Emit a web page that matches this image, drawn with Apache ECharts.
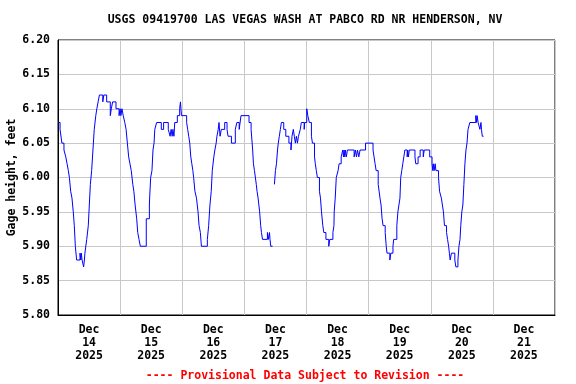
<!DOCTYPE html>
<html>
<head>
<meta charset="utf-8">
<script src="https://cdn.jsdelivr.net/npm/echarts@6/dist/echarts.min.js"></script>
<style>html,body{margin:0;padding:0;background:#fff}#c{width:576px;height:384px}</style>
</head>
<body>
<div id="c"></div>
<script>
// Hours since Dec 14 2025 00:00 and gage height (feet); null = gap in record
const hours = [0,0.8,1.5,2.3,3.0,3.5,4.0,4.4,4.9,5.4,5.9,6.3,6.7,7.2,8.5,8.8,9.0,9.3,9.9,10.2,10.4,11.1,11.7,12.1,12.5,13.0,13.5,14.0,14.6,15.0,15.5,16.0,17.3,17.7,18.8,20.2,20.6,21.1,22.4,23.6,24.0,24.3,24.7,25.2,25.8,26.3,26.8,27.3,27.8,28.3,28.9,29.3,29.8,30.4,30.8,31.3,31.8,34.1,35.3,35.4,35.8,36.3,36.7,37.1,37.4,38.1,39.9,40.8,42.6,43.3,43.7,44.1,44.4,44.8,45.1,46.1,47.0,47.3,47.7,49.7,50.1,50.5,50.9,51.3,51.7,52.1,52.4,52.9,53.5,54.1,54.5,55.0,55.4,57.7,58.2,58.7,59.2,59.6,60.2,60.6,61.1,61.4,61.9,62.2,62.6,63.1,64.4,65.3,65.7,67.0,68.5,69.1,70.0,70.7,73.8,74.6,75.2,75.5,75.9,76.6,76.9,77.3,77.6,77.9,78.3,78.6,79.0,80.9,81.3,81.7,81.9,82.2,82.9,83.6,84.0,84.4,84.8,85.1,85.5,85.9,86.3,87.2,88.0,89.2,90.0,90.4,90.9,91.3,91.7,92.1,92.5,92.9,93.6,94.0,95.1,95.3,96.1,96.5,97.1,97.9,98.3,99.1,99.4,99.8,100.2,101.0,101.4,101.8,102.3,102.7,103.5,104.6,105.0,106.2,106.6,106.7,107.1,107.5,108.2,108.6,109.4,110.0,110.3,110.5,110.8,111.0,111.4,111.8,114.4,114.9,115.3,115.7,116.2,116.7,118.8,121.7,122.1,122.5,122.9,123.7,124.4,124.8,125.2,125.6,126.4,126.8,127.1,128.2,128.6,129.4,129.7,130.9,131.3,131.7,132.1,132.4,132.8,133.2,133.6,134.0,134.9,135.1,135.4,135.7,137.9,138.2,139.1,139.9,141.1,141.5,143.6,144.5,144.8,145.0,145.3,145.7,146.0,147.0,147.4,148.1,148.5,148.9,149.3,150.1,150.5,150.9,151.2,151.5,152.0,153.3,153.7,154.5,154.9,155.3,155.6,156.0,156.4,156.8,157.2,157.6,158.0,158.4,159.1,161.4,161.7,161.9,162.3,163.0,163.4,163.6,163.9,164.4];
const gage = [6.08,6.07,6.05,6.04,6.03,6.02,6.01,6.00,5.98,5.97,5.95,5.93,5.90,5.88,5.89,5.88,5.89,5.88,5.87,5.88,5.89,5.91,5.93,5.96,5.99,6.01,6.04,6.07,6.09,6.10,6.11,6.12,6.11,6.12,6.11,6.09,6.10,6.11,6.10,6.09,6.10,6.09,6.10,6.09,6.08,6.07,6.05,6.03,6.02,6.01,5.99,5.98,5.96,5.94,5.92,5.91,5.90,5.94,5.96,5.97,6.00,6.01,6.04,6.05,6.07,6.08,6.07,6.08,6.07,6.06,6.07,6.06,6.07,6.06,6.08,6.09,6.10,6.11,6.09,6.08,6.07,6.06,6.05,6.03,6.02,6.01,6.00,5.98,5.97,5.95,5.93,5.92,5.90,5.91,5.93,5.96,5.98,6.01,6.03,6.04,6.05,6.06,6.07,6.08,6.06,6.07,6.08,6.07,6.06,6.05,6.07,6.08,6.07,6.09,6.08,6.07,6.04,6.02,6.01,5.99,5.98,5.97,5.96,5.95,5.93,5.92,5.91,5.92,5.91,5.92,5.91,5.90,null,5.99,6.01,6.02,6.04,6.05,6.06,6.07,6.08,6.07,6.06,6.05,6.04,6.06,6.07,6.06,6.05,6.06,6.05,6.06,6.07,6.08,6.07,6.08,6.10,6.09,6.08,6.06,6.05,6.03,6.02,6.01,6.00,5.98,5.97,5.95,5.93,5.92,5.91,5.90,5.91,5.92,5.93,5.95,5.97,6.00,6.01,6.02,6.03,6.04,6.03,6.04,6.03,6.04,6.03,6.04,6.03,6.04,6.03,6.04,6.03,6.04,6.05,6.04,6.03,6.02,6.01,5.99,5.97,5.96,5.94,5.93,5.92,5.90,5.89,5.88,5.89,5.90,5.91,5.93,5.95,5.96,5.97,6.00,6.01,6.02,6.03,6.04,6.03,6.04,6.03,6.04,6.03,6.02,6.03,6.04,6.03,6.04,6.03,6.02,6.01,6.02,6.01,6.02,6.01,6.00,5.98,5.97,5.96,5.95,5.93,5.92,5.91,5.90,5.89,5.88,5.89,5.88,5.87,5.88,5.90,5.91,5.93,5.95,5.96,5.99,6.02,6.04,6.05,6.07,6.08,6.09,6.08,6.09,6.08,6.07,6.08,6.07,6.06,6.06];
const dayLabels = ['Dec\n14\n2025','Dec\n15\n2025','Dec\n16\n2025','Dec\n17\n2025','Dec\n18\n2025','Dec\n19\n2025','Dec\n20\n2025','Dec\n21\n2025'];
const titleText = 'USGS 09419700 LAS VEGAS WASH AT PABCO RD NR HENDERSON, NV';
const footerText = '---- Provisional Data Subject to Revision ----';
const yName = 'Gage height, feet';

const FONT = "'DejaVu Sans Mono', monospace";
const chart = echarts.init(document.getElementById('c'), null, {renderer: 'canvas'});
const seriesData = hours.map((h, i) => [h, gage[i] === null ? '-' : gage[i]]);
chart.setOption({
  animation: false,
  backgroundColor: '#fff',
  title: [
    {text: titleText, left: 300, top: 9, textAlign: 'center',
     textStyle: {fontFamily: FONT, fontWeight: 'bold', fontSize: 11.5, color: '#000'}},
    {text: footerText, left: 300, top: 365, textAlign: 'center',
     textStyle: {fontFamily: FONT, fontWeight: 'bold', fontSize: 11.5, color: '#ff0000'}}
  ],
  graphic: [{
    type: 'text', x: 12, y: 177.5, rotation: Math.PI / 2, silent: true,
    style: {text: yName, fill: '#000', font: "bold 11.5px 'DejaVu Sans Mono', monospace",
            align: 'center', verticalAlign: 'middle'}
  }],
  grid: {left: 58, top: 40, width: 497, height: 275, outerBoundsMode: 'none', containLabel: false,
         show: true, borderColor: '#000', borderWidth: 1, backgroundColor: 'transparent'},
  xAxis: [
    {type: 'value', min: 0, max: 192, interval: 24,
     axisLine: {show: true, lineStyle: {color: '#000'}}, axisTick: {show: false},
     axisLabel: {show: false},
     splitLine: {show: true, lineStyle: {color: '#c8c8c8', width: 1}}},
    {type: 'category', data: dayLabels, position: 'bottom', boundaryGap: true,
     axisLine: {show: false}, axisTick: {show: false}, splitLine: {show: false},
     axisLabel: {interval: 0, margin: 9, fontFamily: FONT, fontWeight: 'bold', fontSize: 11.5, lineHeight: 13, color: '#000'}}
  ],
  yAxis: {
    type: 'value', min: 5.8, max: 6.2, interval: 0.05,
    axisLine: {show: true, lineStyle: {color: '#000'}}, axisTick: {show: false},
    axisLabel: {margin: 8, fontFamily: FONT, fontWeight: 'bold', fontSize: 11.5, color: '#000', formatter: v => v.toFixed(2)},
    splitLine: {show: true, lineStyle: {color: '#c8c8c8', width: 1}}
  },
  series: [{
    type: 'line', xAxisIndex: 0, data: seriesData, step: 'end', showSymbol: false, symbol: 'none',
    connectNulls: false, lineStyle: {color: '#0000ff', width: 1}, silent: true
  }]
});
</script>
</body>
</html>
